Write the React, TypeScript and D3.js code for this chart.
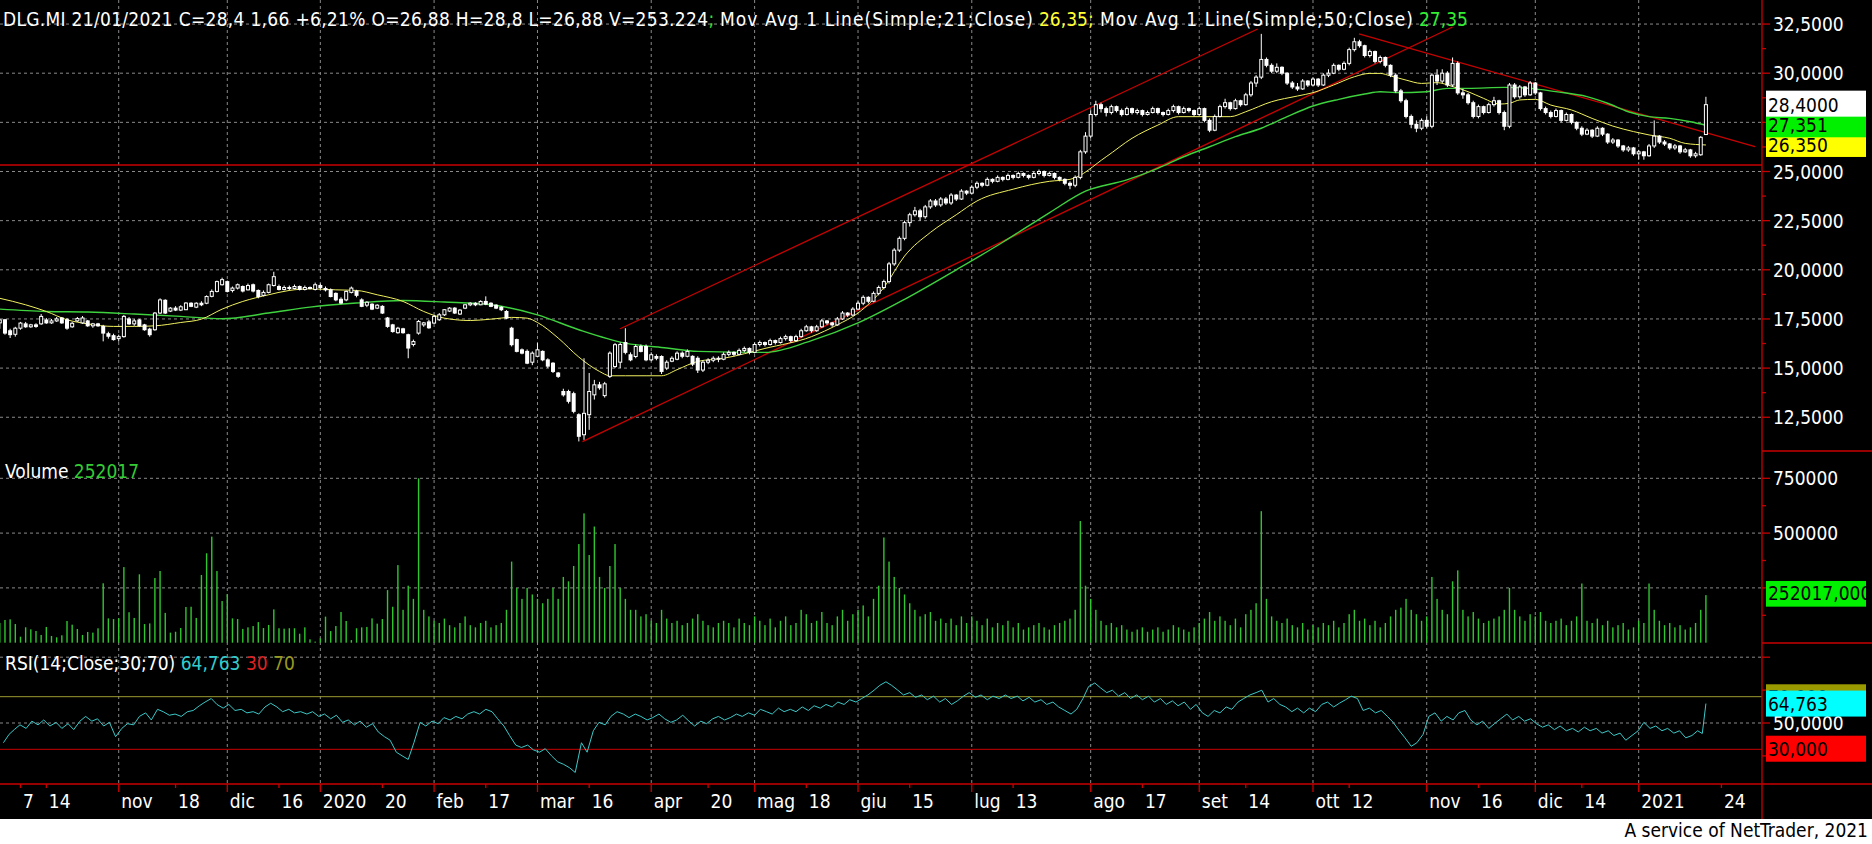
import React from "react";
import * as d3 from "d3";

type Bar = [number, number, number, number, number]; // open, high, low, close, volume

const oct2019: Bar[] = [
  [17.3,17.5,17.0,17.45,90000],[17.46,17.5,16.7,16.78,103600],[16.9,17.0,16.53,16.7,106600],[16.72,17.1,16.6,17.03,85200],
  [17.03,17.35,16.95,17.29,27500],[17.25,17.35,17.05,17.1,70300],[17.1,17.25,17.05,17.2,61100],[17.2,17.28,17.05,17.12,53500],
  [17.25,17.75,17.2,17.63,35300],[17.45,17.55,17.25,17.3,71800],[17.3,17.5,17.25,17.4,30700],[17.4,17.6,17.35,17.5,24600],
  [17.55,17.6,17.25,17.3,33800],[17.46,17.55,16.95,17.03,99000],[17.1,17.35,17.05,17.28,82200],[17.4,17.6,17.35,17.52,62600],
  [17.3,17.65,17.25,17.55,35300],[17.4,17.45,17.1,17.15,49000],[17.15,17.3,17.05,17.25,46000],[17.25,17.3,17.1,17.15,65700],
  [17.12,17.2,16.36,16.78,271000],[16.75,16.85,16.5,16.62,111000],[16.65,16.75,16.4,16.45,108000],
];
const nov2019: Bar[] = [
  [16.5,16.7,16.35,16.6,111000],[16.6,17.7,16.55,17.63,345000],[17.5,17.6,17.2,17.25,139000],[17.25,17.5,17.15,17.4,113000],
  [17.45,17.5,17.1,17.15,312000],[17.2,17.25,16.9,16.95,85000],[16.98,17.05,16.6,16.7,88000],[16.95,17.85,16.9,17.8,295000],
  [17.8,18.55,17.75,18.47,327000],[18.45,18.5,17.75,17.8,136000],[17.9,18.1,17.85,18.05,46000],[18.05,18.15,17.9,17.95,50000],
  [17.95,18.2,17.9,18.12,67000],[17.97,18.35,17.95,18.31,163000],[18.3,18.35,18.1,18.14,164000],[18.1,18.35,18.05,18.3,113000],
  [18.3,18.4,18.15,18.22,309000],[18.3,18.7,18.25,18.64,408000],[18.65,19.0,18.6,18.9,484000],[18.9,19.45,18.85,19.4,327000],
  [19.24,19.6,19.2,19.5,190000],
];
const dec2019: Bar[] = [
  [19.4,19.45,18.85,18.9,221000],[18.95,19.15,18.85,19.07,111000],[19.07,19.3,19.0,19.24,108000],[19.15,19.2,18.85,18.92,63000],
  [18.98,19.3,18.95,19.2,70000],[19.24,19.3,18.85,18.92,76000],[18.95,19.0,18.55,18.64,94000],[18.7,18.95,18.65,18.85,67000],
  [18.85,19.3,18.8,19.24,81000],[19.2,19.9,19.15,19.65,152000],[19.15,19.25,18.95,19.0,66000],[19.0,19.2,18.95,19.1,64000],
  [19.1,19.2,18.95,19.05,66000],[19.05,19.25,19.0,19.15,66000],[19.15,19.2,18.95,19.0,41000],[19.0,19.2,18.95,19.1,70000],
  [19.1,19.15,19.0,19.05,15500],[19.0,19.35,18.95,19.24,5000],
];
const jan2020: Bar[] = [
  [19.2,19.3,19.0,19.1,20000],[19.05,19.15,18.9,18.98,119000],[18.98,19.05,18.6,18.64,53000],[18.8,18.85,18.4,18.47,76000],
  [18.5,18.6,18.25,18.31,140000],[18.47,18.95,18.4,18.9,99000],[18.85,19.15,18.8,19.07,12000],[18.9,18.98,18.6,18.7,66000],
  [18.47,18.55,18.1,18.14,70000],[18.2,18.4,18.1,18.35,72000],[18.25,18.3,17.95,18.0,111000],[18.05,18.25,18.0,18.2,87000],
  [18.14,18.2,17.75,17.8,108000],[17.55,17.6,17.05,17.12,240000],[17.2,17.25,16.8,16.86,164000],[16.8,17.1,16.75,17.03,354000],
  [17.0,17.05,16.75,16.8,150000],[16.7,16.75,15.5,16.02,260000],[16.2,16.45,16.1,16.35,200000],[16.78,17.45,16.7,17.37,750000],
  [17.2,17.35,17.1,17.3,150000],[17.35,17.45,17.0,17.05,120000],
];
const feb2020: Bar[] = [
  [17.29,17.7,17.25,17.63,100000],[17.46,17.8,17.4,17.71,90000],[17.71,18.0,17.65,17.97,110000],[17.9,18.1,17.85,18.05,80000],
  [18.05,18.1,17.75,17.8,70000],[17.75,18.0,17.7,17.95,90000],[18.05,18.25,18.0,18.22,120000],[18.22,18.35,18.15,18.3,80000],
  [18.3,18.35,18.15,18.22,70000],[18.22,18.45,18.2,18.39,90000],[18.39,18.65,18.2,18.25,100000],[18.3,18.35,18.1,18.14,70000],
  [18.2,18.25,18.0,18.05,80000],[18.1,18.15,17.9,17.97,90000],[17.88,17.95,17.5,17.54,150000],[17.03,17.1,16.1,16.19,370000],
  [16.45,16.5,15.8,15.85,250000],[15.93,16.0,15.7,15.76,200000],[15.85,15.95,15.2,15.25,250000],[15.3,15.85,15.15,15.76,220000],
];
const mar2020: Bar[] = [
  [15.6,16.27,15.55,15.93,200000],[15.85,15.9,15.35,15.42,180000],[15.42,15.5,15.0,15.1,200000],[15.25,15.3,14.75,14.83,250000],
  [14.75,14.8,14.5,14.58,200000],[13.81,13.95,13.55,13.64,300000],[13.81,13.9,13.2,13.31,280000],[13.7,13.8,12.7,12.8,350000],
  [12.63,12.7,11.27,11.53,450000],[11.61,15.5,11.35,12.7,590000],[12.63,14.75,11.86,13.81,400000],[13.64,14.4,13.4,14.15,530000],
  [14.15,14.3,13.9,14.0,300000],[13.6,14.3,13.5,14.2,250000],[14.58,15.85,14.5,15.76,350000],[15.08,16.27,15.0,16.19,450000],
  [15.3,16.3,15.0,16.2,250000],[16.3,17.03,15.7,15.8,200000],[15.68,15.8,15.35,15.42,150000],[15.59,16.2,15.5,16.1,150000],
  [16.1,16.2,15.8,15.85,120000],[16.1,16.2,15.35,15.42,130000],
];
const apr2020: Bar[] = [
  [15.42,15.8,15.35,15.68,100000],[15.59,15.7,15.4,15.5,90000],[15.59,15.65,14.7,14.83,150000],[15.0,15.4,14.9,15.3,110000],
  [15.35,15.6,15.3,15.5,90000],[15.45,15.85,15.4,15.76,100000],[15.76,15.85,15.5,15.6,80000],[15.6,15.95,15.55,15.85,90000],
  [15.6,15.65,15.1,15.2,110000],[15.5,15.6,14.75,14.9,130000],[14.9,15.4,14.8,15.3,100000],[15.3,15.5,15.2,15.4,80000],
  [15.4,15.6,15.3,15.5,70000],[15.5,15.6,15.3,15.45,90000],[15.45,15.8,15.4,15.7,100000],[15.7,15.9,15.6,15.8,90000],
  [15.8,15.85,15.6,15.7,70000],[15.7,16.0,15.65,15.9,110000],[15.9,16.1,15.8,16.0,90000],[16.0,16.05,15.7,15.8,80000],
];
const may2020: Bar[] = [
  [15.8,16.3,15.75,16.2,120000],[16.2,16.4,16.1,16.3,100000],[16.3,16.35,16.1,16.2,80000],[16.2,16.5,16.15,16.4,110000],
  [16.4,16.45,16.2,16.3,70000],[16.3,16.6,16.25,16.5,100000],[16.5,16.7,16.4,16.6,120000],[16.6,16.65,16.3,16.4,80000],
  [16.4,16.7,16.35,16.6,90000],[16.6,17.0,16.55,16.9,150000],[16.9,17.2,16.85,17.1,130000],[17.1,17.15,16.8,16.9,90000],
  [16.9,17.2,16.85,17.1,100000],[17.1,17.5,17.05,17.4,140000],[17.4,17.45,17.2,17.3,90000],[17.3,17.35,17.1,17.2,80000],
  [17.2,17.6,17.15,17.5,120000],[17.5,17.9,17.45,17.8,150000],[17.8,17.85,17.6,17.7,100000],[17.7,18.1,17.65,18.0,130000],
];
const jun2020: Bar[] = [
  [18.0,18.4,17.95,18.3,150000],[18.3,18.7,18.2,18.6,170000],[18.6,18.65,18.3,18.4,120000],[18.4,18.9,18.35,18.8,200000],
  [18.8,19.2,18.7,19.1,260000],[19.1,19.5,19.0,19.4,480000],[19.4,20.4,19.3,20.3,370000],[20.3,21.1,20.2,21.0,300000],
  [21.0,21.7,20.9,21.6,250000],[21.6,22.5,21.5,22.4,220000],[22.4,22.9,22.2,22.8,180000],[22.8,23.2,22.7,23.0,150000],
  [23.0,23.1,22.5,22.7,120000],[22.7,23.3,22.6,23.2,130000],[23.2,23.6,23.1,23.5,140000],[23.5,23.6,23.2,23.3,100000],
  [23.3,23.7,23.2,23.6,110000],[23.6,23.7,23.3,23.4,90000],[23.4,23.9,23.3,23.8,110000],[23.8,23.85,23.5,23.6,80000],
  [23.6,24.1,23.55,24.0,120000],[24.0,24.05,23.8,23.9,90000],
];
const jul2020: Bar[] = [
  [23.9,24.3,23.85,24.2,120000],[24.2,24.5,24.1,24.4,100000],[24.4,24.45,24.2,24.3,80000],[24.3,24.7,24.25,24.6,110000],
  [24.6,24.65,24.4,24.5,70000],[24.5,24.8,24.45,24.7,90000],[24.7,24.75,24.5,24.6,80000],[24.6,24.9,24.55,24.8,100000],
  [24.8,24.85,24.6,24.7,70000],[24.7,25.0,24.65,24.9,90000],[24.9,24.95,24.7,24.8,60000],[24.8,24.85,24.6,24.7,70000],
  [24.7,25.0,24.65,24.9,80000],[24.9,25.1,24.8,25.0,90000],[25.0,25.05,24.7,24.8,70000],[24.8,25.0,24.75,24.9,60000],
  [24.9,24.95,24.6,24.7,80000],[24.7,24.75,24.5,24.6,90000],[24.6,24.65,24.3,24.4,100000],[24.4,24.5,24.1,24.3,110000],
  [24.3,24.8,24.2,24.7,150000],[24.7,26.1,24.6,26.0,555000],[26.0,27.0,25.9,26.8,260000],
];
const aug2020: Bar[] = [
  [26.8,28.1,26.7,27.9,200000],[27.9,28.6,27.8,28.4,150000],[28.4,28.5,28.0,28.2,100000],[28.2,28.3,27.8,28.0,80000],
  [28.0,28.4,27.9,28.3,90000],[28.3,28.35,28.0,28.1,70000],[28.1,28.2,27.8,27.9,80000],[27.9,28.3,27.85,28.2,60000],
  [28.2,28.25,27.9,28.0,50000],[28.0,28.2,27.9,28.1,60000],[28.1,28.15,27.8,27.9,70000],[27.9,28.1,27.85,28.0,50000],
  [28.0,28.3,27.95,28.2,60000],[28.2,28.25,27.9,28.0,70000],[28.0,28.05,27.8,27.9,50000],[27.9,28.2,27.85,28.1,60000],
  [28.1,28.4,28.0,28.3,80000],[28.3,28.35,27.9,28.0,70000],[28.0,28.3,27.95,28.2,60000],[28.2,28.25,28.0,28.1,50000],
  [28.1,28.15,27.8,27.9,70000],
];
const sep2020: Bar[] = [
  [27.9,28.3,27.85,28.2,90000],[28.2,28.25,27.5,27.6,110000],[27.6,27.7,27.0,27.1,140000],[27.1,27.9,27.05,27.8,100000],
  [27.8,28.4,27.75,28.3,120000],[28.3,28.7,28.2,28.5,100000],[28.5,28.55,28.1,28.2,80000],[28.2,28.7,28.15,28.6,110000],
  [28.6,28.65,28.3,28.4,70000],[28.4,29.0,28.35,28.9,130000],[28.9,29.6,28.8,29.5,150000],[29.5,29.9,29.3,29.8,180000],
  [29.8,32.0,29.7,30.7,600000],[30.7,30.8,30.3,30.4,200000],[30.4,30.5,30.0,30.1,120000],[30.1,30.5,30.0,30.3,100000],
  [30.3,30.35,29.9,30.0,90000],[30.0,30.05,29.4,29.5,110000],[29.5,29.6,29.2,29.3,80000],[29.3,29.5,29.1,29.2,70000],
  [29.2,29.7,29.15,29.6,90000],[29.6,29.65,29.3,29.4,60000],
];
const oct2020: Bar[] = [
  [29.4,29.8,29.35,29.7,80000],[29.7,29.75,29.3,29.4,70000],[29.4,30.0,29.35,29.9,90000],[29.9,30.2,29.8,30.0,80000],
  [30.0,30.5,29.95,30.4,100000],[30.4,30.45,30.1,30.2,70000],[30.2,30.6,30.15,30.5,90000],[30.5,31.3,30.4,31.2,130000],
  [31.2,31.8,31.1,31.6,150000],[31.6,31.7,31.3,31.4,100000],[31.4,31.45,30.8,30.9,110000],[30.9,31.2,30.8,31.1,80000],
  [31.1,31.15,30.5,30.6,100000],[30.6,30.9,30.5,30.8,70000],[30.8,30.85,30.3,30.4,90000],[30.4,30.45,29.8,29.9,120000],
  [29.9,30.0,29.0,29.1,150000],[29.1,29.2,28.5,28.6,160000],[28.6,28.7,27.7,27.8,200000],[27.8,27.9,27.2,27.4,150000],
  [27.4,27.6,27.0,27.2,130000],[27.2,27.7,27.1,27.6,100000],
];
const nov2020: Bar[] = [
  [27.6,27.8,27.2,27.3,120000],[27.3,30.0,27.2,29.9,300000],[29.9,30.2,29.4,29.6,200000],[29.6,30.2,29.5,30.0,150000],
  [30.0,30.1,29.3,29.4,130000],[29.4,30.8,29.3,30.5,280000],[30.5,30.6,28.9,29.0,330000],[29.0,29.2,28.7,28.9,150000],
  [28.9,29.0,28.4,28.5,120000],[28.5,28.6,27.7,27.8,140000],[27.8,28.4,27.7,28.3,110000],[28.3,28.35,27.9,28.0,90000],
  [28.0,28.5,27.95,28.4,100000],[28.4,28.8,28.3,28.6,110000],[28.6,28.65,27.9,28.0,120000],[28.0,28.1,27.1,27.3,150000],
  [27.3,29.5,27.2,29.4,250000],[29.4,29.5,28.7,28.8,150000],[28.8,29.4,28.7,29.3,120000],[29.3,29.35,28.8,28.9,100000],
  [28.9,29.6,28.85,29.5,130000],
];
const dec2020: Bar[] = [
  [29.5,29.55,28.9,29.0,120000],[29.0,29.05,28.1,28.2,140000],[28.2,28.3,27.9,28.0,100000],[28.0,28.1,27.7,27.8,90000],
  [27.8,28.2,27.75,28.1,100000],[28.1,28.15,27.5,27.6,110000],[27.6,28.0,27.55,27.9,80000],[27.9,27.95,27.4,27.5,100000],
  [27.5,27.55,27.1,27.2,120000],[27.2,27.3,26.8,26.9,270000],[26.9,27.2,26.85,27.1,100000],[27.1,27.15,26.7,26.8,90000],
  [26.8,27.3,26.75,27.2,110000],[27.2,27.25,26.8,26.9,80000],[26.9,26.95,26.4,26.5,100000],[26.5,26.7,26.4,26.6,70000],
  [26.6,26.65,26.2,26.3,80000],[26.3,26.35,26.0,26.1,90000],[26.1,26.3,26.0,26.2,60000],[26.2,26.25,25.8,25.9,70000],
];
const jan2021: Bar[] = [
  [25.9,26.1,25.6,26.0,100000],[26.0,26.05,25.6,25.8,90000],[25.8,26.4,25.75,26.3,270000],[26.3,27.6,26.2,26.8,150000],
  [26.8,26.85,26.4,26.5,100000],[26.5,26.6,26.3,26.4,80000],[26.4,26.45,26.1,26.2,90000],[26.2,26.4,26.1,26.3,70000],
  [26.3,26.35,25.9,26.0,80000],[26.0,26.2,25.95,26.1,60000],[26.1,26.15,25.7,25.8,70000],[25.8,26.0,25.7,25.9,90000],
  [25.85,26.8,25.8,26.74,150000],[26.88,28.8,26.88,28.4,217000],
];

const months: Bar[][] = [oct2019, nov2019, dec2019, jan2020, feb2020, mar2020, apr2020, may2020, jun2020, jul2020, aug2020, sep2020, oct2020, nov2020, dec2020, jan2021];
const monthLabels = ["ott", "nov", "dic", "2020", "feb", "mar", "apr", "mag", "giu", "lug", "ago", "set", "ott", "nov", "dic", "2021"];
// weekly labels: [trading-day index, label]
const weekTicks: [number, string][] = [[4,"7"],[9,"14"],[34,"18"],[54,"16"],[74,"20"],[94,"17"],[114,"16"],[137,"20"],[156,"18"],[176,"15"],[196,"13"],[221,"17"],[241,"14"],[261,"12"],[286,"16"],[306,"14"],[333,"24"]];

// moving averages: [index, value]
const ma21: [number, number][] = [[0,18.55],[5,18.22],[9,17.88],[13,17.46],[17,17.25],[22,17.12],[26,17.12],[30,17.15],[35,17.32],[39,17.49],[43,18.0],[47,18.39],[52,18.73],[56,18.95],[60,19.03],[65,18.98],[69,18.95],[73,18.73],[78,18.39],[82,17.88],[86,17.54],[91,17.42],[95,17.49],[99,17.58],[102,17.54],[104,17.32],[108,16.53],[112,15.56],[116,14.83],[118,14.61],[121,14.61],[125,14.61],[128,14.61],[131,14.92],[135,15.34],[140,15.5],[148,16.0],[157,16.6],[162,17.2],[166,17.8],[171,19.1],[175,20.7],[180,21.9],[185,22.8],[189,23.5],[196,24.1],[203,24.5],[207,24.6],[214,25.75],[219,26.69],[224,27.36],[228,27.79],[232,27.79],[238,27.79],[241,28.04],[246,28.55],[251,28.84],[254,29.01],[258,29.4],[262,29.82],[265,29.99],[267,29.99],[269,29.86],[272,29.65],[275,29.48],[278,29.52],[281,29.32],[284,29.06],[287,28.72],[290,28.43],[292,28.47],[294,28.64],[297,28.67],[300,28.38],[304,28.13],[308,27.7],[312,27.31],[316,27.03],[319,26.86],[323,26.69],[326,26.43],[330,26.35]];
const ma50: [number, number][] = [[0,18.0],[9,17.88],[17,17.85],[26,17.75],[35,17.63],[43,17.51],[52,17.8],[60,18.1],[69,18.31],[78,18.44],[86,18.36],[95,18.22],[104,17.71],[112,16.95],[121,16.27],[129,16.02],[135,15.85],[148,15.8],[157,16.4],[166,17.3],[175,18.5],[185,20.0],[194,21.4],[203,22.9],[210,24.0],[218,24.57],[224,25.16],[229,25.75],[234,26.26],[239,26.77],[244,27.2],[249,27.79],[254,28.33],[259,28.67],[264,28.94],[267,29.06],[270,29.01],[276,29.06],[280,29.23],[284,29.23],[291,29.28],[296,29.23],[301,29.06],[307,28.81],[311,28.47],[315,28.04],[319,27.79],[323,27.7],[327,27.53],[330,27.35]];
// RSI(14): [index, value]
const rsi: [number, number][] = [
  [0.7,35.0],[1.8,41.4],[2.8,45.0],[3.9,48.6],[5.1,45.9],[6.2,51.4],[7.4,48.6],[8.5,52.3],[9.7,47.7],[10.9,50.5],[12.0,45.9],[13.2,49.5],
  [14.3,45.0],[15.5,51.4],[16.6,55.0],[17.8,51.4],[18.9,53.2],[20.1,47.7],[21.2,50.5],[22.4,39.6],[23.6,45.9],[24.7,49.5],[25.9,48.6],
  [27.0,55.0],[28.2,57.7],[29.3,52.3],[30.5,60.4],[31.6,58.6],[32.8,55.9],[33.9,56.8],[35.1,55.0],[36.3,58.6],[37.4,59.5],[38.6,63.1],
  [39.7,65.9],[40.9,68.6],[42.0,64.1],[43.2,61.3],[44.3,64.1],[45.5,59.5],[46.7,60.4],[47.8,57.7],[49.0,58.6],[50.1,56.8],[51.3,62.2],
  [52.4,65.0],[53.6,62.2],[54.7,58.6],[55.9,60.4],[57.0,57.7],[58.2,58.6],[59.4,56.8],[60.5,58.6],[61.7,55.0],[62.8,56.8],[64.0,53.2],
  [65.1,55.9],[66.3,50.5],[67.4,52.3],[68.6,48.6],[69.7,51.4],[70.9,46.8],[72.1,49.5],[73.2,43.2],[74.4,39.6],[75.5,36.9],[76.7,27.8],
  [77.8,25.1],[79.0,22.3],[80.1,35.0],[81.3,50.5],[82.4,47.7],[83.6,51.4],[84.8,49.5],[85.9,54.1],[87.1,52.3],[88.2,55.0],[89.4,53.2],
  [90.5,56.8],[91.7,58.6],[92.8,56.8],[94.0,60.4],[95.2,58.6],[96.3,53.2],[97.5,47.7],[98.6,40.5],[99.8,33.2],[100.9,31.4],[102.1,33.2],
  [103.2,29.6],[104.4,27.8],[105.5,30.5],[106.7,25.1],[107.9,20.5],[109.0,18.7],[110.2,16.0],[111.3,12.4],[112.5,35.0],[113.6,27.8],
  [114.8,44.1],[115.9,50.5],[117.1,48.6],[118.2,55.0],[119.4,58.6],[120.6,56.8],[121.7,54.1],[122.9,56.8],[124.0,55.0],[125.2,52.3],
  [126.3,54.1],[127.5,56.8],[128.6,53.2],[129.8,50.5],[130.9,52.3],[132.1,55.9],[133.3,51.4],[134.4,47.7],[135.6,51.4],[136.7,49.5],
  [137.9,53.2],[139.0,55.0],[140.2,52.3],[141.3,54.1],[142.5,56.8],[143.6,55.0],[144.8,57.7],[146.0,55.9],[147.1,60.4],[148.3,58.6],
  [149.4,56.8],[150.6,61.3],[151.7,58.6],[152.9,60.4],[154.0,58.6],[155.2,62.2],[156.4,59.5],[157.5,63.1],[158.7,61.3],[159.8,64.1],
  [161.0,62.2],[162.1,65.9],[163.3,64.1],[164.4,67.7],[165.6,65.9],[166.7,68.6],[167.9,71.3],[169.1,74.9],[170.2,78.6],[171.4,81.3],
  [172.5,78.6],[173.7,74.9],[174.8,71.3],[176.0,73.1],[177.1,69.5],[178.3,71.3],[179.4,67.7],[180.6,70.4],[181.8,65.9],[182.9,68.6],
  [184.1,64.1],[185.2,66.8],[186.4,70.4],[187.5,73.1],[188.7,69.5],[189.8,71.3],[191.0,67.7],[192.1,70.4],[193.3,68.6],[194.5,71.3],
  [195.6,68.6],[196.8,70.4],[197.9,66.8],[199.1,69.5],[200.2,65.9],[201.4,67.7],[202.5,64.1],[203.7,65.9],[204.8,62.2],[206.0,59.5],
  [207.2,56.8],[208.3,60.4],[209.5,68.6],[210.6,77.7],[211.8,80.4],[212.9,76.7],[214.1,73.1],[215.2,74.9],[216.4,70.4],[217.6,73.1],
  [218.7,68.6],[219.9,71.3],[221.0,67.7],[222.2,70.4],[223.3,65.9],[224.5,68.6],[225.6,64.1],[226.8,66.8],[227.9,63.1],[229.1,65.9],
  [230.3,60.4],[231.4,64.1],[232.6,57.7],[233.7,55.0],[234.9,59.5],[236.0,57.7],[237.2,62.2],[238.3,60.4],[239.5,65.9],[240.6,68.6],
  [241.8,71.3],[243.0,73.1],[244.1,74.9],[245.3,65.9],[246.4,68.6],[247.6,64.1],[248.7,62.2],[249.9,58.6],[251.0,61.3],[252.2,57.7],
  [253.3,61.3],[254.5,58.6],[255.7,64.1],[256.8,65.9],[258.0,62.2],[259.1,65.0],[260.3,67.7],[261.4,70.4],[262.6,68.6],[263.7,59.5],
  [264.9,61.3],[266.1,57.7],[267.2,59.5],[268.4,55.0],[269.5,50.5],[270.7,44.1],[271.8,38.7],[273.0,32.3],[274.1,35.0],[275.3,41.4],
  [276.4,55.0],[277.6,57.7],[278.8,51.4],[279.9,55.0],[281.1,52.3],[282.2,57.7],[283.4,59.5],[284.5,52.3],[285.7,48.6],[286.8,51.4],
  [288.0,45.9],[289.1,49.5],[290.3,53.2],[291.5,56.8],[292.6,52.3],[293.8,55.0],[294.9,51.4],[296.1,53.2],[297.2,49.5],[298.4,46.8],
  [299.5,48.6],[300.7,45.0],[301.8,47.7],[303.0,44.1],[304.2,45.9],[305.3,43.2],[306.5,46.8],[307.6,44.1],[308.8,45.9],[309.9,42.3],
  [311.1,44.1],[312.2,40.5],[313.4,42.3],[314.5,36.9],[315.7,40.5],[316.9,44.1],[318.0,50.5],[319.2,45.9],[320.3,47.7],[321.5,44.1],
  [322.6,45.9],[323.8,42.3],[324.9,44.1],[326.1,38.7],[327.3,40.5],[328.4,44.1],[329.3,42.0],[330,64.763],
];

// trendlines drawn on the chart: [[i0, p0], [i1, p1]]
const supportLine: [number, number][] = [[-2, 25.33], [345, 25.33]];
const channelLow: [number, number][] = [[112.7, 11.26], [281, 32.35]];
const channelHigh: [number, number][] = [[120, 17.0], [243.3, 32.25]];
const resistance: [number, number][] = [[262.9, 32.0], [339.5, 26.27]];

const priceTicks = [12.5, 15, 17.5, 20, 22.5, 25, 27.5, 30, 32.5];
const volumeTicks = [250000, 500000, 750000];
const lastClose = 28.4, lastMa21 = 26.35, lastMa50 = 27.351, lastVolume = 252017, lastRsi = 64.763;

// header pieces: [text, colour, x start, forced width or 0]
const headerParts: [string, string, number, number][] = [
  ["DLG.MI 21/01/2021 C=28,4 1,66 +6,21% O=26,88 H=28,8 L=26,88 V=253.224", "#ffffff", 3, 705],
  [";", "#33dd33", 708.5, 0],
  ["Mov Avg 1 Line(Simple;21;Close)", "#ffffff", 720, 313],
  ["26,35;", "#ffff33", 1039, 0],
  ["Mov Avg 1 Line(Simple;50;Close)", "#ffffff", 1100, 313],
  ["27,35", "#33ee33", 1419, 0],
];

const FONT = "'DejaVu Sans Condensed', 'DejaVu Sans', sans-serif";
const RED = "#c80000";
const GRID = "#8a8a8a";

export default function App() {
  const W = 1872, H = 844, plotR = 1762;
  const bars = months.flat();
  const x = d3.scaleLinear().domain([0, 317]).range([-0.2, 1638.7]);
  const yP = d3.scaleLinear().domain([12.5, 32.5]).range([417.25, 24.05]);
  const yV = d3.scaleLinear().domain([0, 750000]).range([642.7, 478.3]);
  const yR = d3.scaleLinear().domain([50, 100]).range([723, 657.2]);

  const starts: number[] = [];
  let acc = 0;
  months.forEach((m) => { starts.push(acc); acc += m.length; });
  const monthTicks = starts.map((s, k) => ({ i: s, label: monthLabels[k] })).filter((t) => t.i > 0);

  const fmtP = (v: number) => d3.format(".4f")(v).replace(".", ",");
  const fmt3 = (v: number) => d3.format(".3f")(v).replace(".", ",");

  const linePath = (pts: [number, number][], ys: d3.ScaleLinear<number, number>, curve = d3.curveLinear) =>
    d3.line<[number, number]>().x((d) => x(d[0])).y((d) => ys(d[1])).curve(curve)(pts) || "";

  const textStyle: React.CSSProperties = { fontFamily: FONT, fontSize: 19, fontStretch: "condensed" };

  const priceMinor = d3.range(13.75, 32.5, 2.5);
  const volMinor = [125000, 375000, 625000];
  const rsiTicks = [100, 75, 50, 25];

  return (
    <svg width={W} height={H} style={{ position: "absolute", left: 0, top: 0, display: "block" }}>
      <defs>
        <clipPath id="plotClip"><rect x={0} y={0} width={plotR} height={784} /></clipPath>
        <clipPath id="priceClip"><rect x={0} y={0} width={plotR} height={451} /></clipPath>
        <clipPath id="volBoxClip"><rect x={1766} y={560} width={100} height={60} /></clipPath>
      </defs>
      <rect x={0} y={0} width={W} height={819} fill="#000" />
      <rect x={0} y={819} width={W} height={H - 819} fill="#fff" />

      {/* grid */}
      <g stroke={GRID} strokeWidth={1} strokeDasharray="3,3" clipPath="url(#plotClip)">
        {monthTicks.map((t) => (
          <line key={"vg" + t.i} x1={x(t.i)} x2={x(t.i)} y1={0} y2={784} />
        ))}
        {priceTicks.map((p) => (
          <line key={"pg" + p} x1={0} x2={plotR} y1={yP(p)} y2={yP(p)} />
        ))}
        {volumeTicks.map((v) => (
          <line key={"vgl" + v} x1={0} x2={plotR} y1={yV(v)} y2={yV(v)} />
        ))}
        {[100, 50].map((r) => (
          <line key={"rg" + r} x1={0} x2={plotR} y1={yR(r)} y2={yR(r)} />
        ))}
      </g>

      {/* price panel */}
      <g clipPath="url(#priceClip)">
        {[supportLine, channelLow, channelHigh, resistance].map((ln, k) => (
          <path key={"tl" + k} d={linePath(ln, yP)} stroke={RED} strokeWidth={1.3} fill="none" />
        ))}
        <path d={linePath(ma50, yP, d3.curveMonotoneX)} stroke="#3ed23e" strokeWidth={1.4} fill="none" />
        <path d={linePath(ma21, yP, d3.curveMonotoneX)} stroke="#f0f060" strokeWidth={1} fill="none" />
        {bars.map((b, i) => {
          const [o, h, l, c] = b;
          const cx = x(i);
          const up = c >= o;
          const top = yP(Math.max(o, c));
          const bot = yP(Math.min(o, c));
          return (
            <g key={"c" + i}>
              <line x1={cx} x2={cx} y1={yP(h)} y2={yP(l)} stroke="#fff" strokeWidth={1} />
              {up ? (
                <rect x={cx - 1.5} y={top} width={3} height={Math.max(bot - top, 0.5)} fill="#000" stroke="#fff" strokeWidth={1} />
              ) : (
                <rect x={cx - 2} y={top - 0.5} width={4} height={Math.max(bot - top + 1, 1)} fill="#fff" />
              )}
            </g>
          );
        })}
      </g>

      {/* volume */}
      <g clipPath="url(#plotClip)">
        {bars.map((b, i) => (
          <rect key={"v" + i} x={x(i) - 0.7} y={yV(b[4])} width={1.4} height={642.7 - yV(b[4])} fill="#2fc62f" />
        ))}
      </g>

      {/* RSI */}
      <g clipPath="url(#plotClip)">
        <line x1={0} x2={plotR} y1={yR(70)} y2={yR(70)} stroke="#9a9a30" strokeWidth={1} />
        <line x1={0} x2={plotR} y1={yR(30)} y2={yR(30)} stroke={RED} strokeWidth={1} />
        <path d={linePath(rsi, yR)} stroke="#3cc8c8" strokeWidth={1} fill="none" />
      </g>

      {/* axes frame */}
      <g stroke={RED} strokeWidth={1.3}>
        <line x1={plotR} x2={plotR} y1={0} y2={819} />
        <line x1={plotR} x2={W} y1={451} y2={451} />
        <line x1={plotR} x2={W} y1={643} y2={643} />
        <line x1={0} x2={W} y1={784} y2={784} />
        {priceTicks.map((p) => <line key={"pt" + p} x1={plotR} x2={plotR + 8} y1={yP(p)} y2={yP(p)} />)}
        {priceMinor.map((p) => <line key={"pm" + p} x1={plotR} x2={plotR + 4} y1={yP(p)} y2={yP(p)} />)}
        {volumeTicks.map((v) => <line key={"vt" + v} x1={plotR} x2={plotR + 8} y1={yV(v)} y2={yV(v)} />)}
        {volMinor.map((v) => <line key={"vm" + v} x1={plotR} x2={plotR + 4} y1={yV(v)} y2={yV(v)} />)}
        {rsiTicks.map((r) => <line key={"rt" + r} x1={plotR} x2={plotR + (r % 50 === 0 ? 8 : 4)} y1={yR(r)} y2={yR(r)} />)}
        {monthTicks.map((t) => <line key={"mt" + t.i} x1={x(t.i)} x2={x(t.i)} y1={784} y2={792} />)}
        {weekTicks.map((t) => <line key={"wt" + t[0]} x1={x(t[0])} x2={x(t[0])} y1={784} y2={788} />)}
      </g>

      {/* axis labels */}
      <g {...textStyle} fill="#fff">
        {priceTicks.map((p) => (
          <text key={"pl" + p} x={1773} y={yP(p) + 7}>{fmtP(p)}</text>
        ))}
        {volumeTicks.map((v) => (
          <text key={"vl" + v} x={1773} y={yV(v) + 7}>{String(v)}</text>
        ))}
        <text x={1773} y={yR(50) + 7}>{fmtP(50)}</text>
        {monthTicks.map((t) => (
          <text key={"ml" + t.i} x={x(t.i) + 2.5} y={808}>{t.label}</text>
        ))}
        {weekTicks.map((t) => (
          <text key={"wl" + t[0]} x={x(t[0]) + 2.5} y={808}>{t[1]}</text>
        ))}
      </g>

      {/* value boxes */}
      <g {...textStyle}>
        {[
          { y: yP(lastMa21), bg: "#ffff00", label: fmt3(lastMa21) },
          { y: yP(lastMa50), bg: "#00f000", label: fmt3(lastMa50) },
          { y: yP(lastClose), bg: "#ffffff", label: fmtP(lastClose) },
        ].map((bx, k) => (
          <g key={"pb" + k}>
            <rect x={1766} y={bx.y - 14} width={100} height={26} fill={bx.bg} />
            <text x={1768} y={bx.y + 7} fill="#000">{bx.label}</text>
          </g>
        ))}
        <rect x={1766} y={yV(lastVolume) - 6.5} width={100} height={25.7} fill="#00f000" />
        <text x={1768} y={yV(lastVolume) + 13} fill="#000" clipPath="url(#volBoxClip)">{d3.format(".3f")(lastVolume).replace(".", ",")}</text>
        <rect x={1766} y={yR(70) - 12.4} width={100} height={26} fill="#999900" />
        <text x={1768} y={yR(70) + 7} fill="#000">{fmt3(70)}</text>
        <rect x={1766} y={yR(lastRsi) - 13} width={100} height={26} fill="#00ffff" />
        <text x={1768} y={yR(lastRsi) + 7} fill="#000">{fmt3(lastRsi)}</text>
        <rect x={1766} y={yR(30) - 13.6} width={100} height={26} fill="#ff0000" />
        <text x={1768} y={yR(30) + 7} fill="#000">{fmt3(30)}</text>
      </g>

      {/* titles */}
      <g {...textStyle}>
        {headerParts.map(([t, col, hx, len], k) => (
          <text key={"h" + k} x={hx} y={26} fill={col} {...(len ? { textLength: len, lengthAdjust: "spacing" } : {})}>{t}</text>
        ))}
        <text x={5} y={478} fill="#fff">
          Volume <tspan fill="#33cc33">252017</tspan>
        </text>
        <text x={5} y={670} fill="#fff">
          RSI(14;Close;30;70) <tspan fill="#33cccc">64,763</tspan> <tspan fill="#dd2222">30</tspan> <tspan fill="#999922">70</tspan>
        </text>
        <text x={1868} y={837} fill="#000" textAnchor="end">A service of NetTrader, 2021</text>
      </g>
    </svg>
  );
}
